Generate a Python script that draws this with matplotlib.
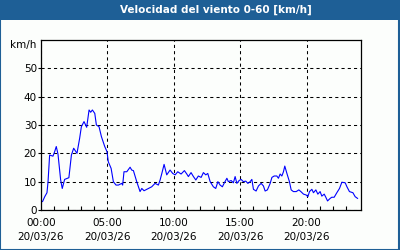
import numpy as np
import matplotlib
matplotlib.use('Agg')
import matplotlib.pyplot as plt
from matplotlib.patches import Rectangle

# hours since 00:00 and wind speed (km/h)
hours = [0.0, 0.12, 0.28, 0.45, 0.53, 0.65, 0.9, 1.03, 1.15, 1.28, 1.48, 1.6, 1.78,
         2.1, 2.29, 2.46, 2.71, 2.91, 3.04, 3.24, 3.44, 3.62, 3.74, 3.87, 4.05,
         4.17, 4.37, 4.55, 4.8, 4.97, 5.07, 5.28, 5.45, 5.65, 5.83, 6.08, 6.15,
         6.25, 6.46, 6.71, 6.83, 6.96, 7.21, 7.46, 7.59, 7.76, 8.09, 8.34, 8.59,
         8.84, 8.97, 9.1, 9.27, 9.47, 9.72, 9.92, 10.1, 10.3, 10.55, 10.8, 10.98,
         11.1, 11.3, 11.48, 11.66, 11.85, 12.06, 12.23, 12.41, 12.56, 12.74, 12.98,
         13.16, 13.32, 13.49, 13.66, 13.81, 14.0, 14.11, 14.32, 14.49, 14.62, 14.75,
         14.92, 15.07, 15.24, 15.42, 15.58, 15.75, 15.88, 16.0, 16.2, 16.38, 16.58,
         16.75, 16.88, 17.05, 17.26, 17.39, 17.56, 17.76, 17.88, 18.01, 18.14,
         18.26, 18.36, 18.52, 18.71, 18.84, 19.01, 19.22, 19.42, 19.57, 19.77,
         19.97, 20.1, 20.22, 20.4, 20.52, 20.7, 20.85, 21.02, 21.15, 21.33, 21.45,
         21.58, 21.78, 21.9, 22.08, 22.28, 22.48, 22.66, 22.91, 23.04, 23.23, 23.49,
         23.66, 23.84]
speed = [2.9, 3.0, 4.7, 6.1, 10.0, 19.4, 19.0, 20.6, 22.4, 19.7, 10.6, 7.6, 10.8,
         11.4, 19.4, 21.8, 20.0, 25.3, 29.4, 31.2, 29.2, 35.3, 34.5, 35.3, 34.1,
         30.0, 29.4, 25.9, 22.4, 20.6, 17.0, 14.7, 10.0, 8.8, 8.8, 9.4, 8.8,
         13.5, 13.5, 15.1, 14.1, 13.9, 10.0, 6.5, 7.6, 6.8, 7.6, 8.2, 9.4,
         8.8, 10.6, 12.9, 16.1, 12.4, 14.1, 12.9, 12.4, 13.5, 12.7, 13.9, 12.7,
         11.8, 13.2, 11.8, 10.6, 12.0, 11.5, 13.2, 12.4, 12.9, 10.0, 8.2,
         7.6, 10.0, 8.8, 8.2, 9.6, 11.2, 10.0, 10.4, 9.6, 11.8, 9.4,
         10.4, 10.8, 10.0, 10.2, 9.4, 10.0, 10.8, 7.3, 6.7, 8.5, 9.4,
         8.5, 6.7, 7.1, 9.4, 11.5, 12.0, 12.0, 11.2, 12.7, 12.0,
         13.5, 15.5, 12.9, 10.0, 7.1, 6.5, 6.5, 7.1, 6.5, 5.6,
         5.3, 4.7, 6.5, 7.3, 6.1, 7.1, 5.6, 6.5, 4.9, 5.6, 4.5,
         3.2, 4.1, 4.5, 4.5, 6.1, 7.6, 9.8, 9.6, 8.2, 6.5, 6.1,
         4.7, 4.1]

title = 'Velocidad del viento 0-60 [km/h]'
y_ticks = [0, 10, 20, 30, 40, 50]
x_ticks = [0, 5, 10, 15, 20]
x_labels = ['00:00\n20/03/26', '05:00\n20/03/26', '10:00\n20/03/26',
            '15:00\n20/03/26', '20:00\n20/03/26']

frame_blue = '#1e5f96'
bg = '#fcfefc'

fig = plt.figure(figsize=(4, 2.5), dpi=100, facecolor=bg)
ax = fig.add_axes([41/400, 40/250, 320/400, 170/250])
ax.set_facecolor(bg)

ax.plot(hours, speed, color='#0000ff', lw=0.8)

ax.set_xlim(0, 24.1)
ax.set_ylim(0, 60)
ax.set_yticks(y_ticks)
ax.set_xticks(x_ticks)
ax.set_xticklabels(x_labels, fontsize=7.5, linespacing=1.5)
ax.set_xticks(np.arange(1, 24), minor=True)
ax.tick_params(axis='y', labelsize=7.5, length=2, width=0.8, pad=1)
ax.tick_params(axis='x', which='major', length=0, pad=6)
ax.tick_params(axis='x', which='minor', direction='in', length=3, width=0.8)
ax.grid(True, color='black', lw=0.75, linestyle=(0, (3, 3)))
for s in ax.spines.values():
    s.set_linewidth(0.9)
    s.set_color('black')

fig.text(36/400, 1 - 45/250, 'km/h', fontsize=7.5, ha='right', va='center')

# title bar and outer frame
fig.patches.append(Rectangle((0, 1 - 20/250), 1, 20/250, transform=fig.transFigure,
                             facecolor=frame_blue, edgecolor='none', zorder=0))
fig.patches.append(Rectangle((0.001, 0.002), 0.997, 0.996, transform=fig.transFigure,
                             facecolor='none', edgecolor=frame_blue, lw=1.5))
fig.text(216/400, 1 - 10/250, title, color='white', fontsize=7.5,
         fontweight='bold', ha='center', va='center')

fig.savefig('out.png', dpi=100, facecolor=bg)
